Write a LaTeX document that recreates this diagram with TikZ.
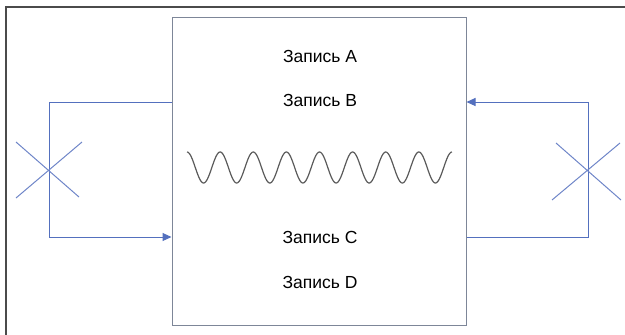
\documentclass[tikz,border=0pt]{standalone}
\usepackage{fontspec}
\setmainfont{Liberation Sans}
\usepackage{xcolor}
\usetikzlibrary{arrows.meta, positioning, calc}
\definecolor{loopblue}{RGB}{84,112,190}
\definecolor{boxgray}{RGB}{125,134,152}
\definecolor{framegray}{RGB}{75,75,75}
\definecolor{wavegray}{RGB}{90,90,90}
\tikzset{
  mainbox/.style={rectangle, draw=boxgray, line width=1pt, minimum width=294pt, minimum height=308pt, inner sep=0pt},
  entry/.style={font=\fontsize{17.5}{20}\selectfont, inner sep=0pt},
  loopline/.style={draw=loopblue, line width=1pt},
  looparrow/.style={loopline, -{Triangle[length=9pt, width=8pt]}},
  crossline/.style={draw=loopblue!85, line width=1pt},
}
\begin{document}
\begin{tikzpicture}[x=1pt, y=-1pt]
  \useasboundingbox (0,0) rectangle (625,335);
  % outer frame, only top and left edges visible
  \draw[framegray, line width=2pt] (5.5,335) -- (5.5,6.5) -- (625,6.5);
  \node[mainbox] (box) at (319,171) {};
  \node[entry] (recA) at (320,56) {Запись A};
  \node[entry] (recB) at (320,100) {Запись B};
  \node[entry] (recC) at (320,237) {Запись C};
  \node[entry] (recD) at (320,282) {Запись D};
  \draw[wavegray, line width=1.2pt, domain=0:265, samples=300, smooth]
    plot ({187+\x}, {167.5-15.5*cos(\x/265*8*360)});
  % left loop
  \coordinate (lcross) at (49,170);
  \coordinate (ltop) at (49,102);
  \coordinate (lbot) at (49,237);
  \draw[loopline] (box.west |- ltop) -- (ltop) -- (lbot);
  \draw[looparrow] (lbot) -- (box.west |- lbot);
  \draw[crossline] ($(lcross)+(-33,28)$) -- ($(lcross)+(33,-28)$);
  \draw[crossline] ($(lcross)+(-33,-28)$) -- ($(lcross)+(30,27)$);
  % right loop
  \coordinate (rcross) at (588,170);
  \coordinate (rtop) at (588,102);
  \coordinate (rbot) at (588,237);
  \draw[loopline] (box.east |- rbot) -- (rbot) -- (rtop);
  \draw[looparrow] (rtop) -- (box.east |- rtop);
  \draw[crossline] ($(rcross)+(-36,30)$) -- ($(rcross)+(32,-27)$);
  \draw[crossline] ($(rcross)+(-32,-27)$) -- ($(rcross)+(33,30)$);
\end{tikzpicture}
\end{document}
